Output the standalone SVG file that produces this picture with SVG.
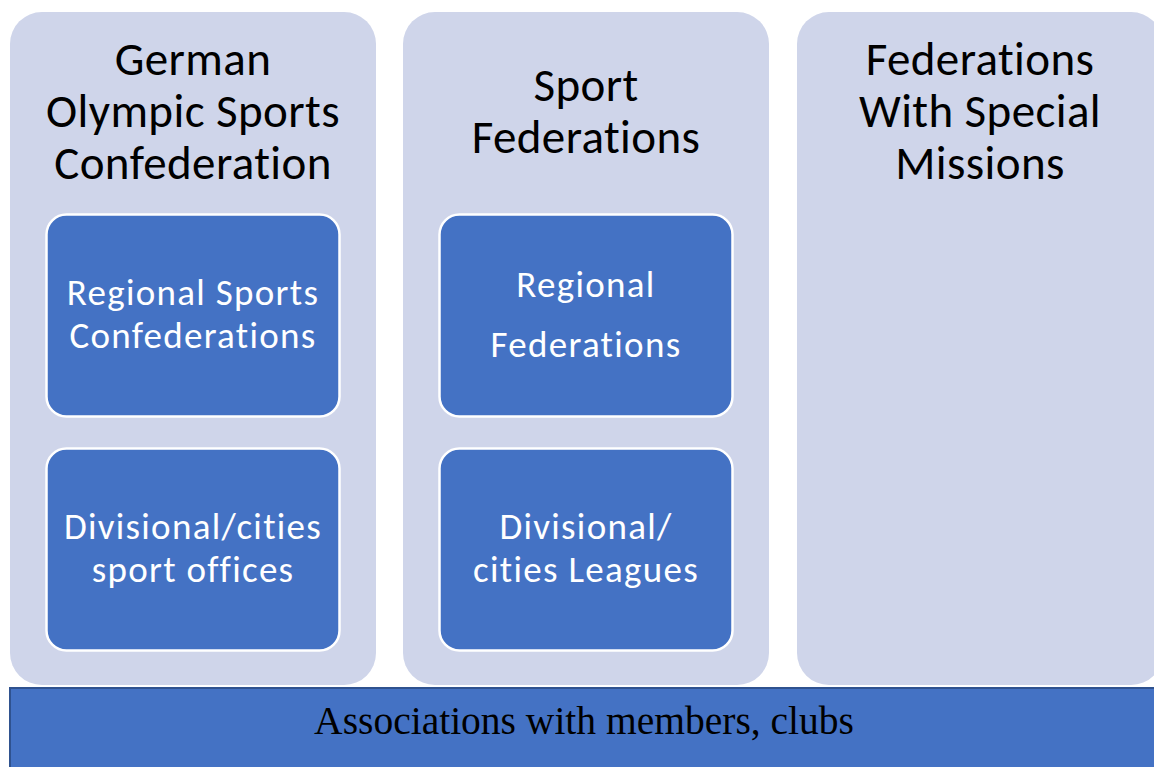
<svg xmlns="http://www.w3.org/2000/svg" width="1154" height="767" viewBox="0 0 1154 767">
<style>
.col{fill:#CFD5EA;}
.inner{fill:#4472C4;stroke:#FFFFFF;stroke-width:2.5;}
.title{font-family:Carlito,Lato,"Liberation Sans",sans-serif;font-size:47px;letter-spacing:0.4px;fill:#000000;text-anchor:middle;}
.lbl{font-family:Carlito,Lato,"Liberation Sans",sans-serif;font-size:37px;letter-spacing:1.3px;fill:#FFFFFF;text-anchor:middle;}
.base{fill:#4472C4;stroke:#2F528F;stroke-width:2;}
.baseTxt{font-family:"Liberation Serif",serif;font-size:39.5px;fill:#000000;text-anchor:middle;}
</style>
<rect width="1154" height="767" fill="#FFFFFF"/>
<g id="col-dosb">
<rect class="col" x="10" y="12" width="366" height="673" rx="32"/>
<text class="title"><tspan x="193" y="75">German</tspan><tspan x="193" y="127">Olympic Sports</tspan><tspan x="193" y="179">Confederation</tspan></text>
</g>
<g id="col-sport">
<rect class="col" x="403" y="12" width="366" height="673" rx="32"/>
<text class="title"><tspan x="586" y="101">Sport</tspan><tspan x="586" y="153">Federations</tspan></text>
</g>
<g id="col-special">
<rect class="col" x="797" y="12" width="366" height="673" rx="32"/>
<text class="title"><tspan x="980" y="75">Federations</tspan><tspan x="980" y="127">With Special</tspan><tspan x="980" y="179">Missions</tspan></text>
</g>
<g id="regional-sports-conf">
<rect class="inner" x="46.5" y="214.5" width="293" height="202" rx="20"/>
<text class="lbl"><tspan x="193" y="305">Regional Sports</tspan><tspan x="193" y="348">Confederations</tspan></text>
</g>
<g id="divisional-offices">
<rect class="inner" x="46.5" y="448.5" width="293" height="202" rx="20"/>
<text class="lbl"><tspan x="193" y="539">Divisional/cities</tspan><tspan x="193" y="582">sport offices</tspan></text>
</g>
<g id="regional-federations">
<rect class="inner" x="439.5" y="214.5" width="293" height="202" rx="20"/>
<text class="lbl"><tspan x="586" y="297">Regional</tspan><tspan x="586" y="357">Federations</tspan></text>
</g>
<g id="divisional-leagues">
<rect class="inner" x="439.5" y="448.5" width="293" height="202" rx="20"/>
<text class="lbl"><tspan x="586" y="539">Divisional/</tspan><tspan x="586" y="582">cities Leagues</tspan></text>
</g>
<g id="associations">
<rect class="base" x="10" y="688" width="1160" height="90"/>
<text class="baseTxt" x="584" y="734">Associations with members, clubs</text>
</g>
<g id="connectors"></g>
</svg>
